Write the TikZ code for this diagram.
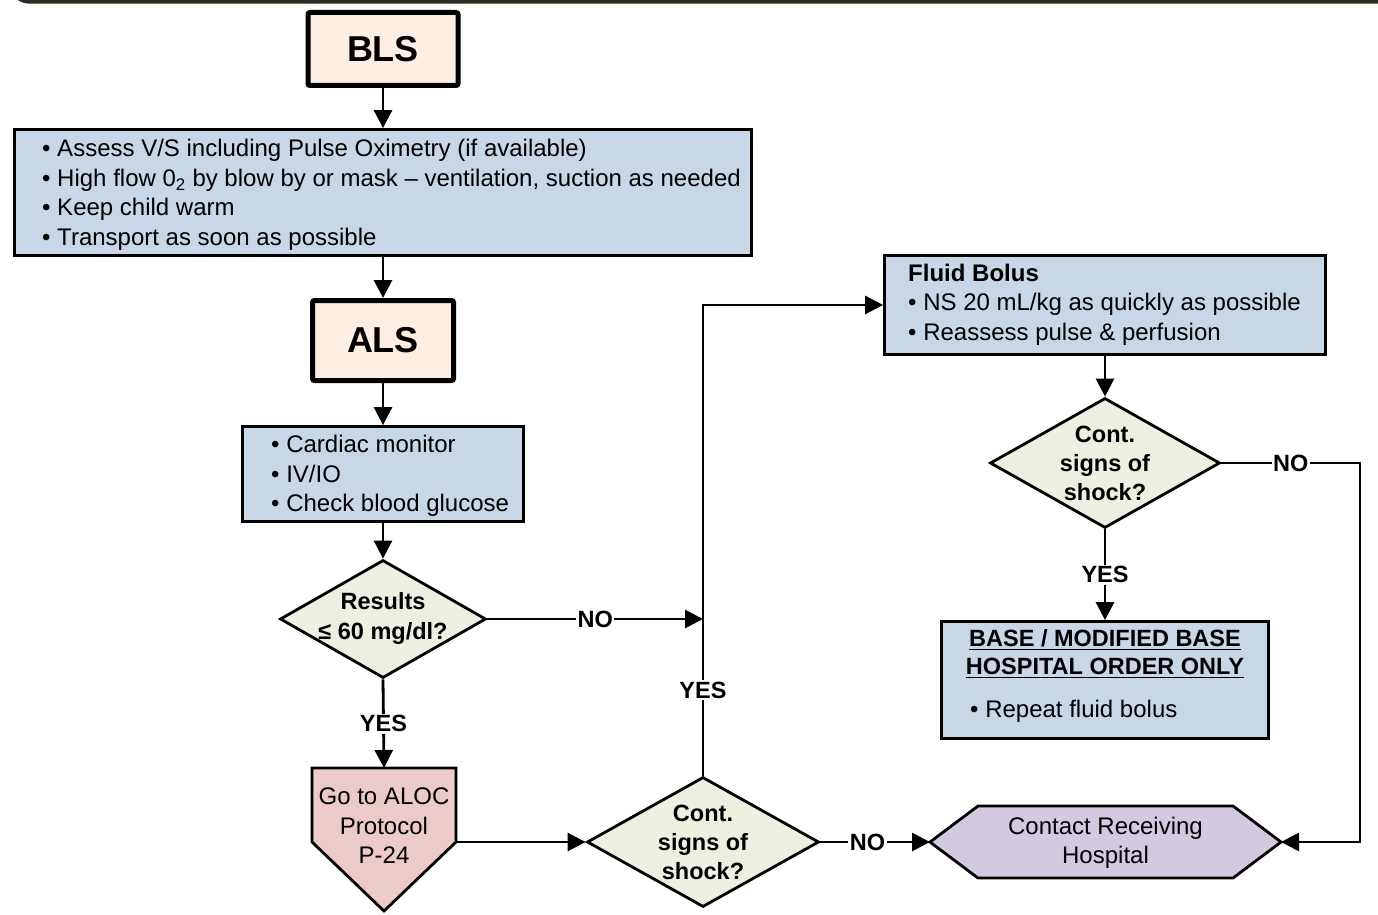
\documentclass[tikz,border=0pt]{standalone}
\usepackage{fontspec}
\setmainfont{Liberation Sans}
\usetikzlibrary{arrows.meta,shapes.geometric}
\definecolor{peach}{HTML}{FDEEE3}
\definecolor{bluebox}{HTML}{C9D6E5}
\definecolor{dfill}{HTML}{EBF0E0}
\definecolor{pinkfill}{HTML}{ECCACA}
\definecolor{lav}{HTML}{D3CAE0}
\definecolor{band}{HTML}{2B2D22}
\newcommand{\ulx}[1]{\setbox0\hbox{#1}\rlap{\rule[-3.6pt]{\wd0}{1.8pt}}\box0}
\begin{document}
\begin{tikzpicture}[x=1pt,y=-1pt,
  every node/.style={font=\fontsize{24}{29.5}\selectfont},
  hdr/.style={draw, line width=5pt, fill=peach, rounded corners=2pt, font=\fontsize{36}{40}\selectfont\bfseries},
  blbox/.style={draw, line width=2.8pt, fill=bluebox},
  txt/.style={align=left, inner sep=0pt, anchor=west},
  ctxt/.style={align=center, inner sep=0pt},
  dia/.style={diamond, draw, line width=2.8pt, fill=dfill, inner sep=0pt},
  dtxt/.style={align=center, inner sep=0pt, font=\fontsize{23.5}{29.3}\selectfont\bfseries},
  ghost/.style={inner sep=0pt, outer sep=0pt},
  conn/.style={line width=2.8pt, -{Triangle[length=18pt,width=18pt]}},
  plain/.style={line width=2.8pt},
  lab/.style={fill=white, inner sep=1.5pt, font=\fontsize{23.5}{28}\selectfont\bfseries}
]
\useasboundingbox (0,0) rectangle (1378,915);
\begin{scope}
\clip (0,0) rectangle (1378,915);
\draw[band, line width=4.5pt, rounded corners=20pt] (10,-40) -- (10,1.5) -- (1400,1.5);
\end{scope}

% headers and boxes
\node[hdr, minimum width=150pt, minimum height=73pt] (bls) at (383,49) {BLS};
\node[blbox, minimum width=737pt, minimum height=126pt] (b1) at (383,192.5) {};
\node[txt] (t1) at (42,195) {• Assess V/S including Pulse Oximetry (if available)\\
• High flow 0\textsubscript{2} by blow by or mask – ventilation, suction as needed\\
• Keep child warm\\
• Transport as soon as possible};
\node[hdr, minimum width=141pt, minimum height=80pt] (als) at (383,340.5) {ALS};
\node[blbox, minimum width=281pt, minimum height=95pt] (b2) at (383,474) {};
\node[txt] (t2) at (271,476) {• Cardiac monitor\\ • IV/IO\\ • Check blood glucose};

\node[dia, minimum width=206pt, minimum height=118pt] (d1) at (383,619) {};
\node[dtxt] (d1t) at (383,618.5) {Results\\≤ 60 mg/dl?};

% pentagon
\node[ghost, minimum width=144pt, minimum height=74pt] (pent) at (384,805) {};
\coordinate (pentTip) at (384,911);
\draw[plain, fill=pinkfill] (pent.north west) -- (pent.north east) -- (pent.south east) -- (pentTip) -- (pent.south west) -- cycle;
\node[ctxt] (pentt) at (384,826) {Go to ALOC\\Protocol\\P-24};

\node[dia, minimum width=232pt, minimum height=130pt] (d2) at (703,842) {};
\node[dtxt] (d2t) at (703,842.5) {Cont.\\signs of\\shock?};

% hexagon
\node[ghost, minimum width=255pt, minimum height=72pt] (hex) at (1105.5,842) {};
\coordinate (hexL) at (930,842);
\coordinate (hexR) at (1281,842);
\draw[plain, fill=lav] (hex.north west) -- (hex.north east) -- (hexR) -- (hex.south east) -- (hex.south west) -- (hexL) -- cycle;
\node[ctxt] (hext) at (1105.5,843) {Contact Receiving\\Hospital};

% fluid bolus
\node[blbox, minimum width=441pt, minimum height=99pt] (fl) at (1105,305) {};
\node[txt] (flt) at (908,304.5) {\textbf{Fluid Bolus}\\ • NS 20 mL/kg as quickly as possible\\ • Reassess pulse \& perfusion};

\node[dia, minimum width=230pt, minimum height=130pt] (d3) at (1105,463) {};
\node[dtxt] (d3t) at (1105,463.5) {Cont.\\signs of\\shock?};

\node[blbox, minimum width=327pt, minimum height=117pt] (b4) at (1105,680) {};
\node[ctxt, font=\fontsize{23.5}{28}\selectfont\bfseries] (b4t) at (1105,654) {\ulx{BASE / MODIFIED BASE}\\\ulx{HOSPITAL ORDER ONLY}};
\node[txt] (b4b) at (970,711) {• Repeat fluid bolus};

% connectors
\coordinate (J) at (703,619);
\coordinate (R) at (1360,463);
\draw[conn] (bls.south) -- (b1.north);
\draw[conn] (b1.south) -- (als.north);
\draw[conn] (als.south) -- (b2.north);
\draw[conn] (b2.south) -- (d1.north);
\draw[conn] (d1.south) -- node[lab]{YES} (pent.north);
\draw[conn] (d1.east) -- node[lab]{NO} (J);
\draw[conn] (d2.north) -- node[lab,pos=0.182]{YES} (d2.north |- fl.west) -- (fl.west);
\draw[conn] (fl.south) -- (d3.north);
\draw[conn] (d3.south) -- node[lab]{YES} (b4.north);
\draw[conn] (d3.east) -- node[lab]{NO} (R) |- (hexR);
\draw[conn] (pent.south east) -- (d2.west);
\draw[conn] (d2.east) -- node[lab,pos=0.43]{NO} (hexL);
\end{tikzpicture}
\end{document}
